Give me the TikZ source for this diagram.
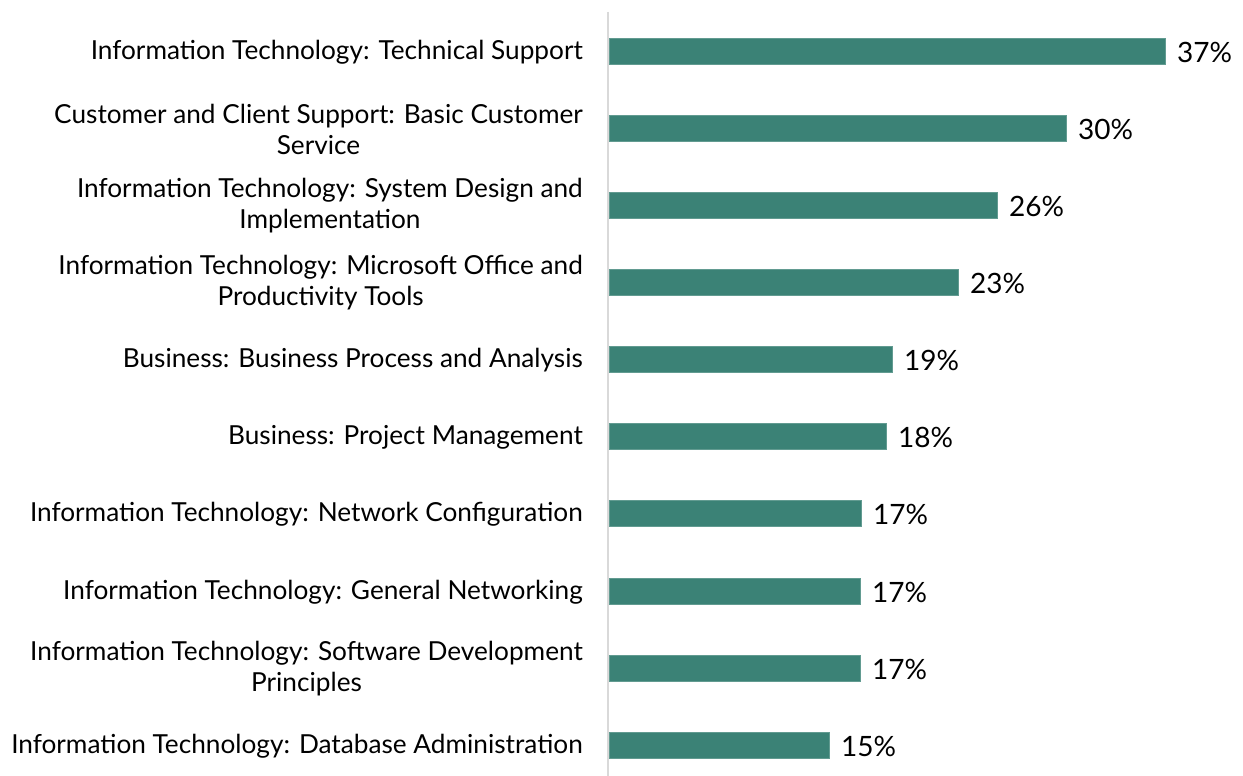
\documentclass[tikz,border=0pt]{standalone}
\usepackage{fontspec}
\setmainfont{Lato}
\definecolor{barteal}{HTML}{3B8276}
\definecolor{axisgray}{HTML}{D9D9D9}
\tikzset{
  bar/.style={fill=barteal, draw=barteal!80!white, line width=0.8pt},
  cat/.style={anchor=east, align=center, font=\fontsize{26.2}{31}\selectfont, inner sep=0pt, text=black},
  pct/.style={anchor=west, font=\fontsize{28}{31}\selectfont, inner sep=0pt, text=black},
}
\begin{document}
\begin{tikzpicture}[x=1pt,y=-1pt]
\useasboundingbox (0,0) rectangle (1243,776);
\coordinate (axtop) at (608,12);
\coordinate (axbot) at (608,776);
\draw[axisgray, line width=1.5pt] (axtop) -- (axbot);
\foreach \i/\y/\e/\p/\t in {
  1/51/1165/37\%/{Information Technology: Technical Support},
  2/128/1066/30\%/{Customer and Client Support: Basic Customer\\Service},
  3/205/997/26\%/{Information Technology: System Design and\\Implementation},
  4/282/958/23\%/{Information Technology: Microsoft Office and\\Productivity Tools},
  5/359/892/19\%/{Business: Business Process and Analysis},
  6/436/886/18\%/{Business: Project Management},
  7/513/861/17\%/{Information Technology: Network Configuration},
  8/591/860/17\%/{Information Technology: General Networking},
  9/668/860/17\%/{Information Technology: Software Development\\Principles},
  10/745/829/15\%/{Information Technology: Database Administration}}
{
  \path[bar] (609.5,\y-13) rectangle (\e,\y+13);
  \node[pct] (p\i) at (\e+12,\y+1) {\p};
  \node[cat] (c\i) at (583,\y+1) {\t};
}
\end{tikzpicture}
\end{document}
